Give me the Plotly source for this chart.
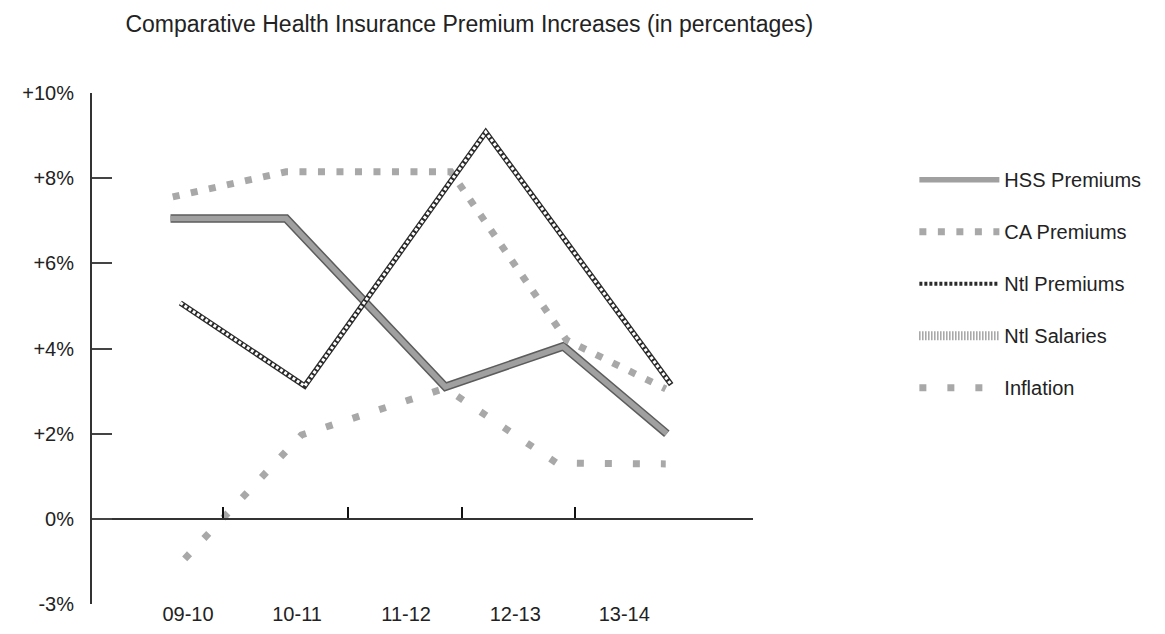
"""Comparative health insurance premium increases, 09-10 to 13-14.

Scanned-style line chart: y axis labelled -3% .. +10%, x axis line sits
at 0% with small upward ticks, category labels along the bottom.
"""

import plotly.graph_objects as go

TITLE = "Comparative Health Insurance Premium Increases (in percentages)"

PERIODS = ["09-10", "10-11", "11-12", "12-13", "13-14"]

# y tick labels as printed on the chart (bottom label reads -3%)
Y_TICKS = [-2, 0, 2, 4, 6, 8, 10]
Y_TICK_TEXT = ["-3%", "0%", "+2%", "+4%", "+6%", "+8%", "+10%"]

# small upward ticks drawn on the 0% line
X_MINOR_TICKS = [0.32, 1.47, 2.51, 3.55]

# each series is drawn at its own positions along the period axis
HSS_X = [-0.16, 0.90, 2.36, 3.44, 4.39]
HSS_Y = [7.05, 7.05, 3.1, 4.05, 2.0]

CA_X = [-0.14, 0.90, 2.41, 3.47, 4.38]
CA_Y = [7.56, 8.15, 8.15, 4.2, 3.05]

NTL_PREM_X = [-0.07, 1.07, 2.73, 4.43]
NTL_PREM_Y = [5.07, 3.12, 9.08, 3.15]

INFL_X = [-0.03, 1.04, 2.36, 3.38, 4.38]
INFL_Y = [-0.94, 1.97, 3.07, 1.31, 1.29]

FONT = "Liberation Sans, Arial, sans-serif"
INK = "#222222"
DOT = "#a8a8a8"

fig = go.Figure()

# HSS premiums: thick grey band with a darker rim
fig.add_trace(go.Scatter(x=HSS_X, y=HSS_Y, mode="lines",
                         line=dict(color="#5c5c5c", width=8.5),
                         legendgroup="hss", showlegend=False, hoverinfo="skip"))
fig.add_trace(go.Scatter(x=HSS_X, y=HSS_Y, mode="lines", name="HSS Premiums",
                         line=dict(color="#a0a0a0", width=5.5),
                         legendgroup="hss"))

# CA premiums: row of grey dots
fig.add_trace(go.Scatter(x=CA_X, y=CA_Y, mode="lines", name="CA Premiums",
                         line=dict(color=DOT, width=7, dash="7px,11.5px"),
                         legendgroup="ca"))

# Ntl premiums: chain of small hollow boxes
fig.add_trace(go.Scatter(x=NTL_PREM_X, y=NTL_PREM_Y, mode="lines",
                         line=dict(color="#2a2a2a", width=5.5),
                         legendgroup="ntlp", showlegend=False))
fig.add_trace(go.Scatter(x=NTL_PREM_X, y=NTL_PREM_Y, mode="lines",
                         line=dict(color="white", width=3, dash="3px,2px"),
                         legendgroup="ntlp", showlegend=False, hoverinfo="skip"))
fig.add_trace(go.Scatter(x=[None], y=[None], mode="lines", name="Ntl Premiums",
                         line=dict(color="#2a2a2a", width=4, dash="3px,2px"),
                         legendgroup="ntlp"))

# Ntl salaries only shows up in the key; it also carries the 0% axis line
fig.add_trace(go.Scatter(x=[None], y=[None], mode="lines", name="Ntl Salaries",
                         line=dict(color="#777777", width=9, dash="1px,2px"),
                         legendgroup="ntls", xaxis="x2"))

# Inflation: wider-spaced grey dots
fig.add_trace(go.Scatter(x=INFL_X, y=INFL_Y, mode="lines", name="Inflation",
                         line=dict(color=DOT, width=7, dash="7px,21px"),
                         legendgroup="infl"))

X_RANGE = [-0.88, 5.18]
Y_RANGE = [-2, 10]

fig.update_layout(
    width=1165,
    height=634,
    margin=dict(l=84, r=420, t=85, b=38),
    paper_bgcolor="white",
    plot_bgcolor="white",
    font=dict(family=FONT, color=INK, size=20),
    title=dict(text=TITLE, x=0.396, xref="container", xanchor="center",
               y=0.975, yref="container", yanchor="middle",
               font=dict(size=23, color=INK)),
    showlegend=True,
    legend=dict(
        x=0.778, xref="container", y=0.76, yref="container",
        xanchor="left", yanchor="top",
        traceorder="grouped", tracegroupgap=23,
        itemwidth=80, font=dict(size=20, color=INK),
        bgcolor="rgba(0,0,0,0)",
    ),
    xaxis=dict(
        range=X_RANGE, tickmode="array", tickvals=list(range(len(PERIODS))),
        ticktext=PERIODS, ticks="", showline=False, showgrid=False,
        zeroline=False, ticklabelstandoff=-4, tickfont=dict(size=20),
    ),
    xaxis2=dict(
        range=X_RANGE, overlaying="x", anchor="free", position=1 / 6,
        side="bottom", showline=True, linecolor="#333333", linewidth=2,
        tickmode="array", tickvals=X_MINOR_TICKS, ticks="inside",
        ticklen=11, tickwidth=2, tickcolor="#111111",
        showticklabels=False, showgrid=False, zeroline=False,
    ),
    yaxis=dict(
        range=Y_RANGE, tickmode="array", tickvals=Y_TICKS, ticktext=Y_TICK_TEXT,
        showline=True, linecolor="#333333", linewidth=2,
        ticks="inside", ticklen=20, tickwidth=1.5, tickcolor="#444444",
        showgrid=False, zeroline=False, ticklabelstandoff=12,
        tickfont=dict(size=20),
    ),
)

fig.write_html("out.html")
